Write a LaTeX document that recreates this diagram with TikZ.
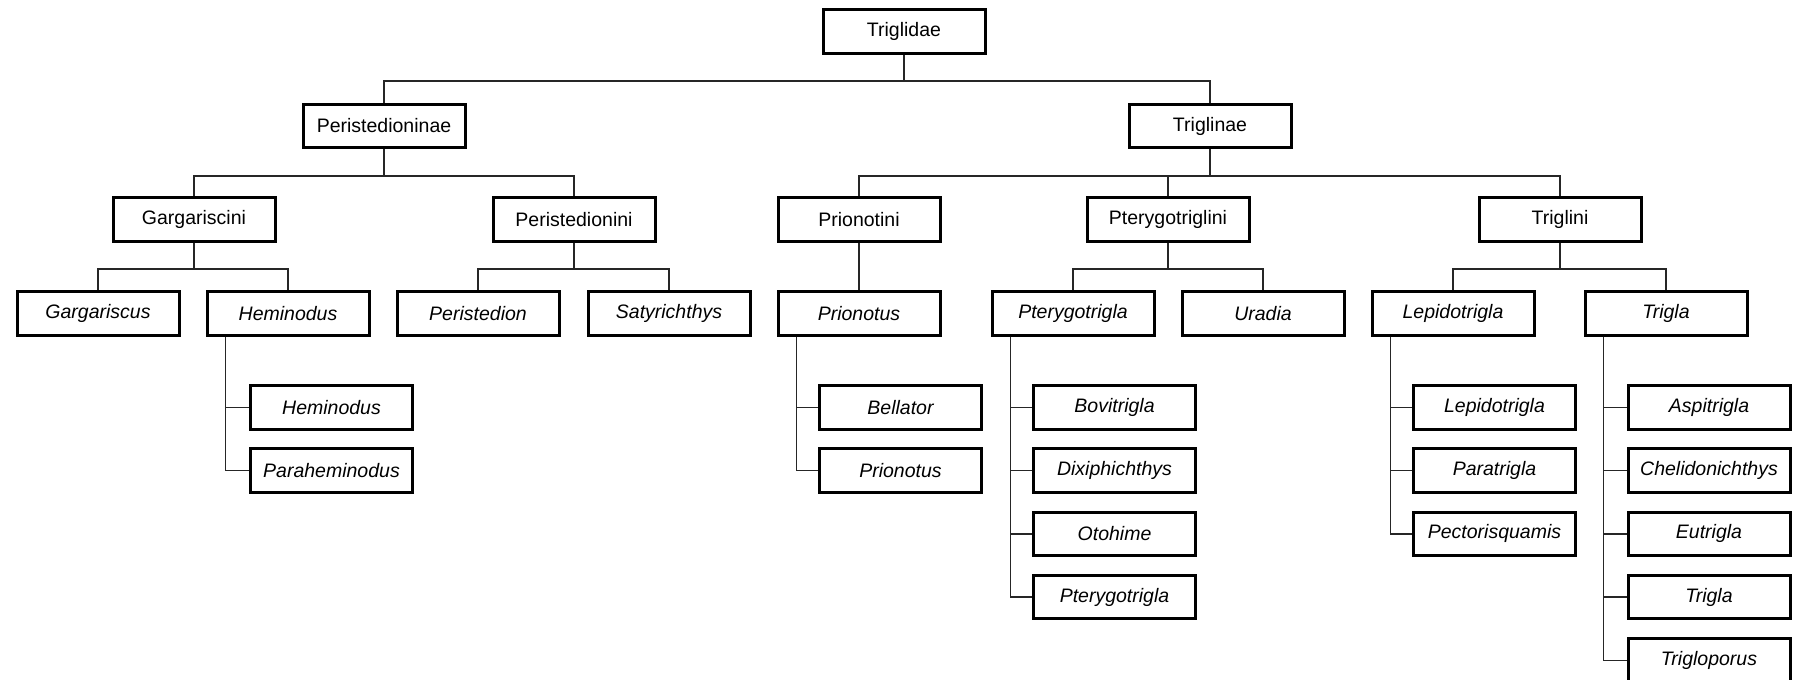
\documentclass[tikz,border=0pt]{standalone}
\usepackage{fontspec}
\setmainfont{Liberation Sans}
\begin{document}
\begin{tikzpicture}[x=1pt,y=-1pt,
  box/.style={draw=black,line width=3pt,fill=white,minimum width=162pt,minimum height=43.5pt,inner sep=0pt,font=\fontsize{19.5}{21}\selectfont},
  gbox/.style={box,font=\fontsize{19.5}{21}\selectfont\itshape},
  conn/.style={draw=black!85,line width=1.6pt}]
\useasboundingbox[fill=white] (0,0) rectangle (1794,680);
% level 1
\node[box] (triglidae) at (904,31.5) {Triglidae};
% level 2
\node[box] (peristedioninae) at (384,126) {Peristedioninae};
\node[box] (triglinae) at (1210,126) {Triglinae};
% level 3
\node[box] (gargariscini) at (194,219.3) {Gargariscini};
\node[box] (peristedionini) at (574,219.3) {Peristedionini};
\node[box] (prionotini) at (859,219.3) {Prionotini};
\node[box] (pterygotriglini) at (1168,219.3) {Pterygotriglini};
\node[box] (triglini) at (1560,219.3) {Triglini};
% level 4
\node[gbox] (gargariscus) at (98,313.3) {Gargariscus};
\node[gbox] (heminodus) at (288,313.3) {Heminodus};
\node[gbox] (peristedion) at (478,313.3) {Peristedion};
\node[gbox] (satyrichthys) at (669,313.3) {Satyrichthys};
\node[gbox] (prionotus) at (859,313.3) {Prionotus};
\node[gbox] (pterygotrigla) at (1073,313.3) {Pterygotrigla};
\node[gbox] (uradia) at (1263,313.3) {Uradia};
\node[gbox] (lepidotrigla) at (1453,313.3) {Lepidotrigla};
\node[gbox] (trigla) at (1666,313.3) {Trigla};
% level 5
\node[gbox] (hemA) at (331.5,407.3) {Heminodus};
\node[gbox] (hemB) at (331.5,470.5) {Paraheminodus};
\node[gbox] (priA) at (900.5,407.3) {Bellator};
\node[gbox] (priB) at (900.5,470.5) {Prionotus};
\node[gbox] (ptA) at (1114.5,407.3) {Bovitrigla};
\node[gbox] (ptB) at (1114.5,470.5) {Dixiphichthys};
\node[gbox] (ptC) at (1114.5,533.8) {Otohime};
\node[gbox] (ptD) at (1114.5,597) {Pterygotrigla};
\node[gbox] (lepA) at (1494.5,407.3) {Lepidotrigla};
\node[gbox] (lepB) at (1494.5,470.5) {Paratrigla};
\node[gbox] (lepC) at (1494.5,533.8) {Pectorisquamis};
\node[gbox] (trA) at (1709,407.3) {Aspitrigla};
\node[gbox] (trB) at (1709,470.5) {Chelidonichthys};
\node[gbox] (trC) at (1709,533.8) {Eutrigla};
\node[gbox] (trD) at (1709,597) {Trigla};
\node[gbox] (trE) at (1709,660.3) {Trigloporus};
% tree connectors
\foreach \p/\c in {triglidae/peristedioninae,triglidae/triglinae,
  peristedioninae/gargariscini,peristedioninae/peristedionini,
  triglinae/prionotini,triglinae/pterygotriglini,triglinae/triglini,
  gargariscini/gargariscus,gargariscini/heminodus,
  peristedionini/peristedion,peristedionini/satyrichthys,
  prionotini/prionotus,
  pterygotriglini/pterygotrigla,pterygotriglini/uradia,
  triglini/lepidotrigla,triglini/trigla}
  \draw[conn] (\p.south) -- ++(0,26.5) -| (\c.north);
\foreach \p/\c in {heminodus/hemA,heminodus/hemB,
  prionotus/priA,prionotus/priB,
  pterygotrigla/ptA,pterygotrigla/ptB,pterygotrigla/ptC,pterygotrigla/ptD,
  lepidotrigla/lepA,lepidotrigla/lepB,lepidotrigla/lepC,
  trigla/trA,trigla/trB,trigla/trC,trigla/trD,trigla/trE}
  \draw[conn] ([xshift=20pt]\p.south west) |- (\c.west);
\end{tikzpicture}
\end{document}
